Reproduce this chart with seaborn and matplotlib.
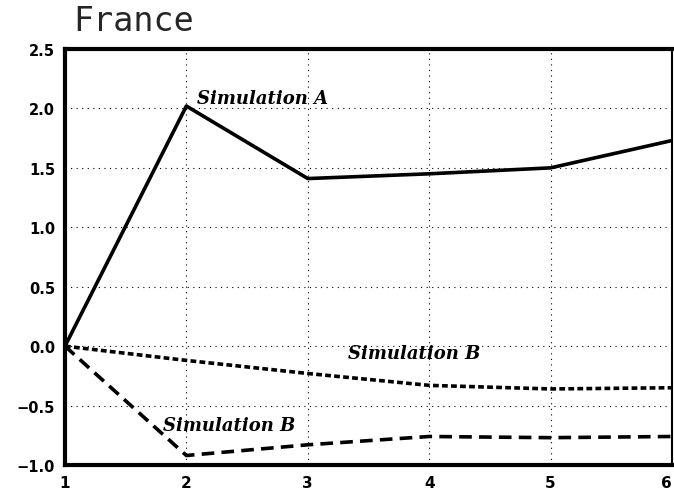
import matplotlib
matplotlib.use("Agg")
import matplotlib.pyplot as plt
import seaborn as sns
import pandas as pd

periods = [1, 2, 3, 4, 5, 6]
sim_a = [0.0, 2.02, 1.41, 1.45, 1.50, 1.73]
sim_b_dotted = [0.0, -0.12, -0.23, -0.33, -0.36, -0.35]
sim_b_dashed = [0.0, -0.92, -0.83, -0.76, -0.77, -0.76]
y_ticks = [-1.0, -0.5, 0.0, 0.5, 1.0, 1.5, 2.0, 2.5]

sns.set_theme(style="white")
plt.rcParams['font.family'] = ['DejaVu Sans']

df = pd.DataFrame({
    "period": periods * 3,
    "value": sim_a + sim_b_dotted + sim_b_dashed,
    "series": ["A"] * 6 + ["B1"] * 6 + ["B2"] * 6,
})

fig = plt.figure(figsize=(6.74, 5.02), dpi=100)
ax = fig.add_axes([0.0964, 0.0717, 0.9006, 0.8287])

styles = {"A": "-", "B1": (0, (1.6, 0.9)), "B2": (0, (3.5, 2.0))}
for s, ls in styles.items():
    sub = df[df.series == s]
    sns.lineplot(data=sub, x="period", y="value", ax=ax, color="black",
                 linewidth=2.6, linestyle=ls, legend=False)

ax.set_xlim(1, 6)
ax.set_ylim(-1.0, 2.5)
ax.set_xticks(periods)
ax.set_yticks(y_ticks)
ax.set_xticklabels([str(p) for p in periods], fontweight="bold", fontsize=11)
ax.set_yticklabels([f"{v:.1f}".replace("-", "\u2212") for v in y_ticks], fontweight="bold", fontsize=10.5)
ax.get_xticklabels()[-1].set_horizontalalignment("right")
ax.set_xlabel("")
ax.set_ylabel("")
ax.grid(True, color="black", linestyle=(0, (1, 4)), linewidth=0.8)
for side in ["left", "bottom", "top", "right"]:
    ax.spines[side].set_color("black")
    ax.spines[side].set_linewidth(3)
ax.spines["right"].set_linewidth(1.5)
ax.tick_params(axis="both", direction="out", length=4, width=1.5, colors="black", pad=3)

fig.text(0.108, 0.925, "France", fontsize=24, family="DejaVu Sans Mono", ha="left", va="bottom")

lab = dict(fontsize=13, fontstyle="italic", fontweight="bold", family="DejaVu Serif", color="black")
ax.text(2.09, 2.01, "Simulation A", ha="left", va="bottom", **lab)
ax.text(3.33, -0.06, "Simulation B", ha="left", va="center", **lab)
ax.text(1.81, -0.66, "Simulation B", ha="left", va="center", **lab)

fig.savefig("out.png", dpi=100)
